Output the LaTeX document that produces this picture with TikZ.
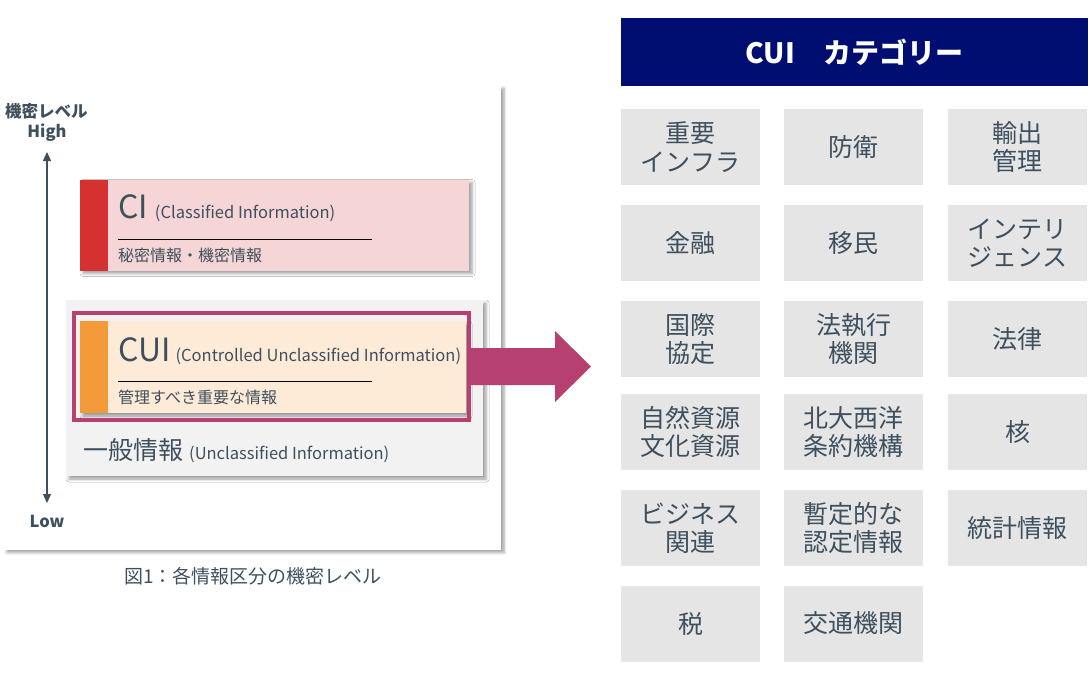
\documentclass[tikz,border=0pt]{standalone}
\usepackage{fontspec}
\setmainfont{Noto Sans CJK JP}
\usetikzlibrary{arrows.meta,shadows.blur}
\definecolor{ink}{RGB}{62,80,94}
\definecolor{navy}{RGB}{0,14,113}
\definecolor{catgray}{RGB}{229,229,229}
\definecolor{cipink}{RGB}{245,213,213}
\definecolor{cired}{RGB}{214,49,49}
\definecolor{cuipeach}{RGB}{253,234,215}
\definecolor{cuiorange}{RGB}{243,155,56}
\definecolor{genbg}{RGB}{242,242,242}
\definecolor{frame}{RGB}{182,64,111}
\tikzset{box/.style={draw=none, inner sep=0mm, outer sep=0mm},
    shade/.style={blur shadow={shadow xshift=3pt, shadow yshift=-3pt, shadow blur radius=3pt, shadow opacity=38}},
    category/.style={box, fill=catgray, minimum width=139pt, minimum height=76pt,
        align=center, text=ink, font=\fontsize{25}{28.5}\selectfont},
    lvtext/.style={inner sep=0mm, text=ink, font=\fontsize{16.5}{16.5}\selectfont\bfseries},
    subtext/.style={inner sep=0mm, anchor=west, text=ink, font=\fontsize{16}{16}\selectfont}}
\newcommand{\bigfont}{\fontsize{32}{32}\selectfont}
\newcommand{\smallfont}{\fontsize{16.5}{16.5}\selectfont}

\begin{document}
\begin{tikzpicture}[x=1pt, y=-1pt]
    \useasboundingbox (0,0) rectangle (1092,675);

    % left: levels
    \node (panel) at (252.5,317.5) [box, shade, fill=white, minimum width=497pt, minimum height=464pt] {};

    \node (lvtitle) at (46.5,111) [lvtext] {機密レベル};
    \node (high) at (47,133) [lvtext] {High};
    \node (low) at (47,521) [lvtext] {Low};
    \coordinate (lvtop) at (47,152);
    \coordinate (lvbot) at (47,503);
    \draw [ink, line width=1.2pt, {Triangle[width=8pt,length=9pt]}-{Triangle[width=8pt,length=9pt]}] (lvtop) -- (lvbot);

    \node (general) at (274.5,388) [box, shade, fill=genbg, minimum width=417pt, minimum height=176pt] {};
    \node (ci) at (274.5,225) [box, shade, fill=cipink, minimum width=389pt, minimum height=91pt] {};
    \node (cibar) at (94,225) [box, fill=cired, minimum width=28pt, minimum height=91pt] {};
    \node (cui) at (273,367) [box, shade, fill=cuipeach, minimum width=386pt, minimum height=92pt] {};
    \node (cuibar) at (94,367) [box, fill=cuiorange, minimum width=28pt, minimum height=92pt] {};
    \node (cuiframe) at (271.5,366.5) [box, draw=frame, line width=4pt, minimum width=395pt, minimum height=107pt] {};

    \node (cititle) at (118,218) [anchor=base west, inner sep=0mm, text=ink]
        {{\bigfont CI}\hspace{7pt}{\smallfont (Classified Information)}};
    \draw [line width=1pt] (118,239) -- (372,239);
    \node (cisub) at (118,255) [subtext] {秘密情報・機密情報};

    \node (cuititle) at (118,361) [anchor=base west, inner sep=0mm, text=ink]
        {{\bigfont CUI}\hspace{5pt}{\smallfont (Controlled Unclassified Information)}};
    \draw [line width=1pt] (118,381) -- (372,381);
    \node (cuisub) at (118,397) [subtext] {管理すべき重要な情報};

    \node (gentitle) at (83,459.5) [anchor=base west, inner sep=0mm, text=ink]
        {{\fontsize{25}{25}\selectfont 一般情報}\hspace{6pt}{\smallfont (Unclassified Information)}};

    \node (caption) at (253,576) [inner sep=0mm, text=ink, font=\fontsize{19}{19}\selectfont]
        {図1：各情報区分の機密レベル};

    \fill [frame] (cuiframe.east) ++(0,-18.5) -- ++(86,0) -- ++(0,-17) -- ++(36,35.5)
        -- ++(-36,35.5) -- ++(0,-17) -- ++(-86,0) -- cycle;

    % right: categories
    \node (cathead) at (854.5,52) [box, fill=navy, minimum width=467pt, minimum height=68pt,
        text=white, font=\fontsize{28}{28}\selectfont\bfseries] {CUI　カテゴリー};

    \node (infra) at (690.5,147) [category] {重要\\インフラ};
    \node (defense) at (853.5,147) [category] {防衛};
    \node (export) at (1017.5,147) [category] {輸出\\管理};

    \node (finance) at (690.5,243) [category] {金融};
    \node (immig) at (853.5,243) [category] {移民};
    \node (intel) at (1017.5,243) [category] {インテリ\\ジェンス};

    \node (intl) at (690.5,339) [category] {国際\\協定};
    \node (lawenf) at (853.5,339) [category] {法執行\\機関};
    \node (legal) at (1017.5,339) [category] {法律};

    \node (natural) at (690.5,432) [category] {自然資源\\文化資源};
    \node (nato) at (853.5,432) [category] {北大西洋\\条約機構};
    \node (nuclear) at (1017.5,432) [category] {核};

    \node (business) at (690.5,528) [category] {ビジネス\\関連};
    \node (provis) at (853.5,528) [category] {暫定的な\\認定情報};
    \node (stats) at (1017.5,528) [category] {統計情報};

    \node (tax) at (690.5,623.5) [category] {税};
    \node (transport) at (853.5,623.5) [category] {交通機関};
\end{tikzpicture}
\end{document}
